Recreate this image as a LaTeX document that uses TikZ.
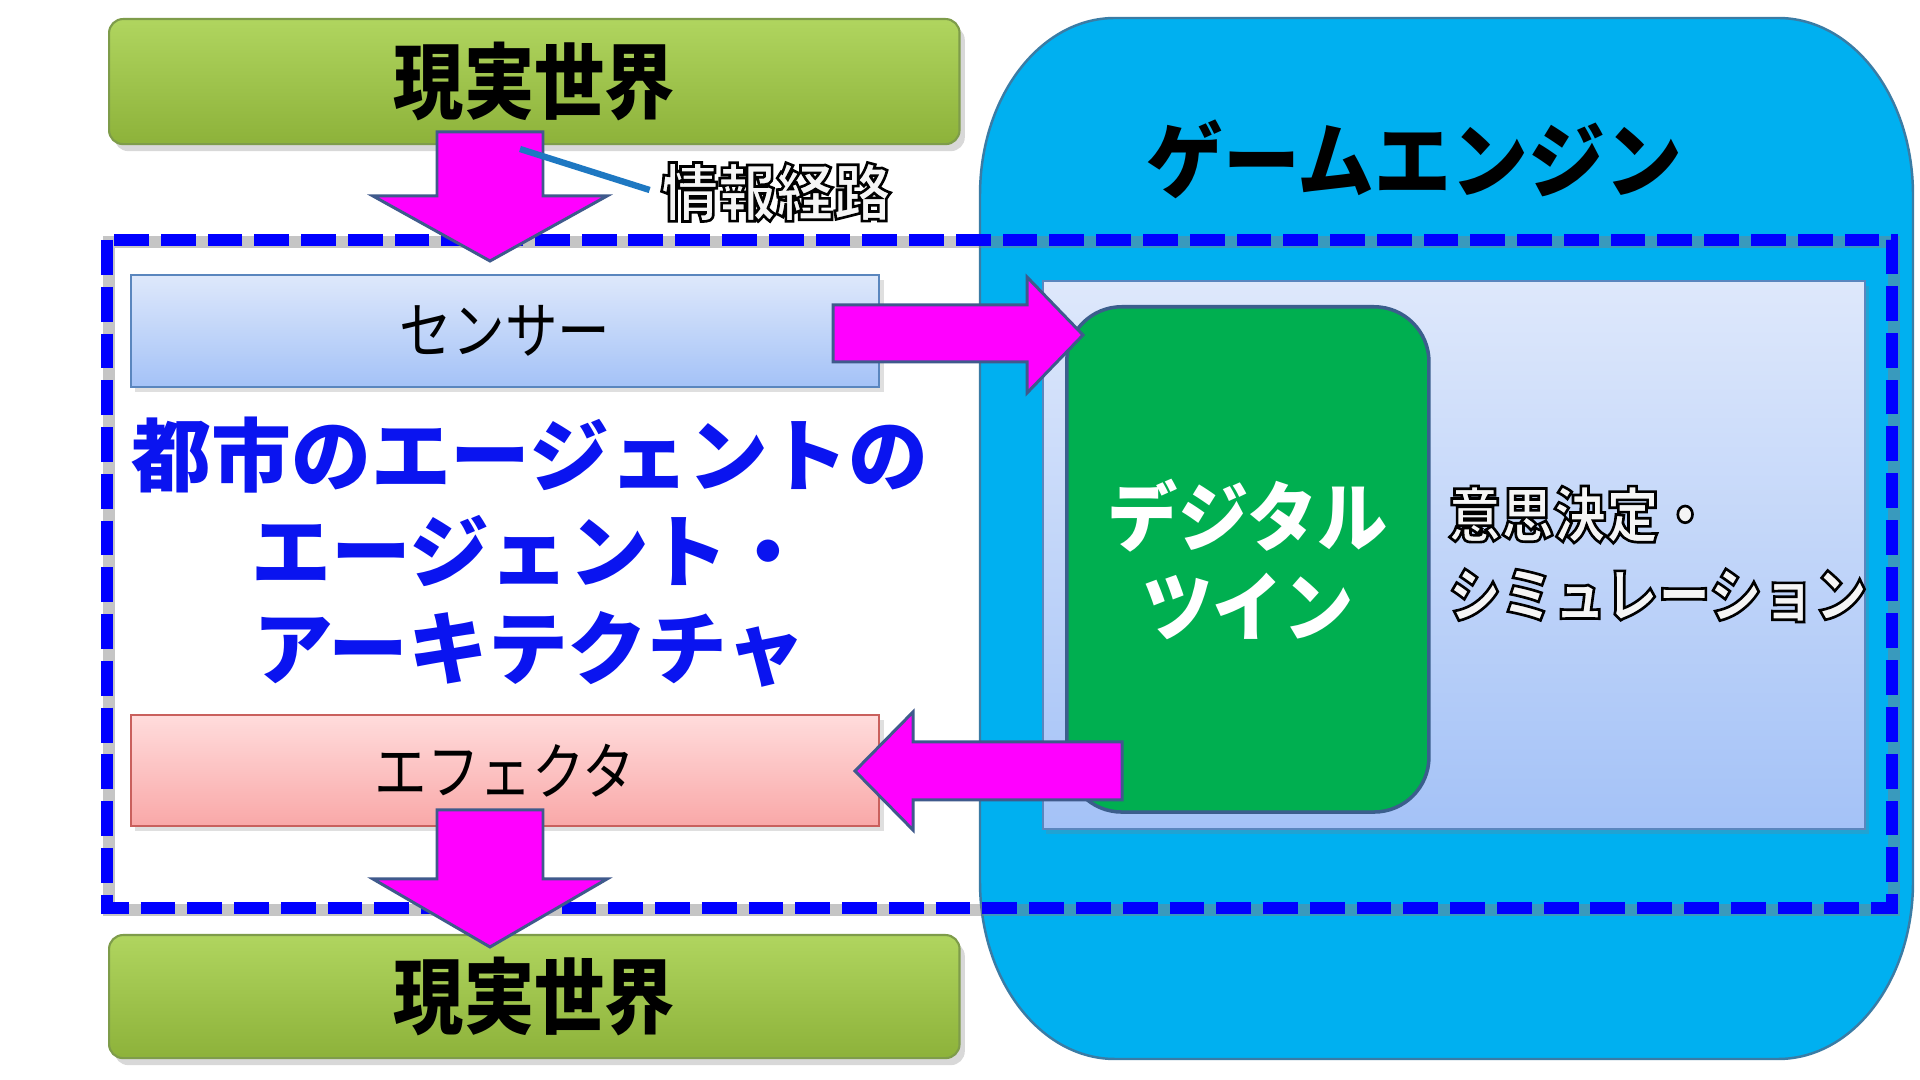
\documentclass[tikz,border=0pt]{standalone}
\usepackage{fontspec}
\usetikzlibrary{shadows}
\newfontfamily\jpW{Noto Sans CJK JP}
\newfontfamily\jpA[FakeStretch=0.85]{Noto Sans CJK JP}
\newfontfamily\jpB[FakeStretch=0.93]{Noto Sans CJK JP}
\newfontfamily\jpD[FakeStretch=0.88]{Noto Sans CJK JP}
\newcommand{\outlinetext}[1]{\special{pdf:literal direct 2 Tr 0.75 w 0.96 0.96 0.96 rg 0 0 0 RG}#1\special{pdf:literal direct 0 Tr 0 0 0 rg 0 0 0 RG}}
\definecolor{greentop}{HTML}{B0D55F}
\definecolor{greenbot}{HTML}{8DB23A}
\definecolor{greenline}{HTML}{7E9C4A}
\definecolor{engine}{HTML}{00B0F0}
\definecolor{engineline}{HTML}{3A7CA5}
\definecolor{bluetop}{HTML}{DEE8FB}
\definecolor{bluebot}{HTML}{A4C2F7}
\definecolor{blueline}{HTML}{5A86BE}
\definecolor{redtop}{HTML}{FFDCDC}
\definecolor{redbot}{HTML}{F9A8A8}
\definecolor{redline}{HTML}{C9605D}
\definecolor{twin}{HTML}{00AF50}
\definecolor{twinline}{HTML}{3B5E8C}
\definecolor{arrowfill}{HTML}{FF00FF}
\definecolor{arrowline}{HTML}{3F5A8C}
\definecolor{dashblue}{HTML}{0000FF}
\definecolor{pathline}{HTML}{1E78C2}
\definecolor{titleblue}{HTML}{0A14F0}
\begin{document}
\begin{tikzpicture}[x=0.01cm,y=-0.01cm,
  worldbox/.style={draw=greenline, line width=0.6pt, top color=greentop, bottom color=greenbot,
    rounded corners=0.14cm, anchor=north west, inner sep=0pt,
    drop shadow={shadow xshift=1.5pt, shadow yshift=-2pt, opacity=0.3},
    font={\jpA\bfseries\fontsize{23.5}{26}\selectfont}},
  sensorbox/.style={draw=blueline, line width=0.5pt, top color=bluetop, bottom color=bluebot,
    anchor=north west, inner sep=0pt,
    drop shadow={shadow xshift=1.2pt, shadow yshift=-1.5pt, opacity=0.25},
    font={\jpA\fontsize{17.6}{20}\selectfont}},
  effbox/.style={sensorbox, draw=redline, top color=redtop, bottom color=redbot},
  blockarrow/.style={fill=arrowfill, draw=arrowline, line width=0.85pt, line join=miter},
]
\useasboundingbox (0,0) rectangle (1920,1080);
\fill[white] (0,0) rectangle (1920,1080);

% game engine container
\draw[fill=engine, draw=engineline, line width=0.7pt]
  (980,195) .. controls (980,97) and (1040,18) .. (1115,18) -- (1778,18)
  .. controls (1853,18) and (1913,97) .. (1913,195) -- (1913,882)
  .. controls (1913,980) and (1853,1059) .. (1778,1059) -- (1115,1059)
  .. controls (1040,1059) and (980,980) .. (980,882) -- cycle;
\node[font={\jpB\bfseries\fontsize{23.5}{26}\selectfont}] (engine) at (1414,159) {ゲームエンジン};

% decision / simulation panel
\node[draw=blueline, line width=0.5pt, top color=bluetop, bottom color=bluebot, anchor=north west,
  inner sep=0pt, minimum width=8.22cm, minimum height=5.48cm,
  drop shadow={shadow xshift=1pt, shadow yshift=-1.5pt, opacity=0.25}] (panel) at (1042,280) {};
\node[anchor=west, align=left, font={\jpD\bfseries\fontsize{17}{22.7}\selectfont}] (decision) at (1436,554)
  {\outlinetext{意思決定・}\\\outlinetext{シミュレーション}};

% digital twin
\node[draw=twinline, line width=1pt, fill=twin, rounded corners=0.55cm, anchor=north west,
  inner sep=0pt, minimum width=3.62cm, minimum height=5.05cm, align=center, text=white,
  font={\jpB\bfseries\fontsize{21.5}{25.5}\selectfont}] (twin) at (1065,305) {デジタル\\ツイン};

% dashed agent boundary
\draw[gray, opacity=0.45, line width=3.4pt] ([xshift=0.5pt,yshift=-0.5pt]107,240) rectangle ([xshift=0.5pt,yshift=-0.5pt]1892,908);
\draw[dashblue, line width=3.4pt, dash pattern=on 9.9pt off 3.4pt] (107,240) rectangle (1892,908);

\node[align=center, text=titleblue, font={\jpW\bfseries\fontsize{22.7}{27.5}\selectfont}] (title) at (530,552)
  {都市のエージェントの\\エージェント・\\アーキテクチャ};

% sensor and effector
\node[sensorbox, minimum width=7.48cm, minimum height=1.12cm] (sensor) at (130,274) {センサー};
\node[effbox, minimum width=7.48cm, minimum height=1.11cm] (effector) at (130,714) {エフェクタ};

% real world boxes
\node[worldbox, minimum width=8.5cm, minimum height=1.25cm] (worldtop) at (108,18) {現実世界};
\node[worldbox, minimum width=8.5cm, minimum height=1.23cm] (worldbot) at (108,934) {現実世界};

% block arrows
\draw[blockarrow] (437,132) -- (543,132) -- (543,196) -- (607,196) -- (490,261) -- (373,196) -- (437,196) -- cycle;
\draw[blockarrow] (437,810) -- (543,810) -- (543,879) -- (607,879) -- (490,947) -- (373,879) -- (437,879) -- cycle;
\draw[blockarrow] (833,305) -- (1027,305) -- (1027,277) -- (1083,335) -- (1027,393) -- (1027,362) -- (833,362) -- cycle;
\draw[blockarrow] (1122,742) -- (913,742) -- (913,712) -- (855,771) -- (913,830) -- (913,800) -- (1122,800) -- cycle;

% information path label
\node[font={\jpB\bfseries\fontsize{17.6}{20}\selectfont}, inner sep=3pt] (pathlabel) at (776,192)
  {\outlinetext{情報経路}};
\coordinate (pathpt) at (520,149);
\draw[pathline, line width=1.8pt] (pathpt) -- (pathlabel.west |- 0,190);
\end{tikzpicture}
\end{document}
